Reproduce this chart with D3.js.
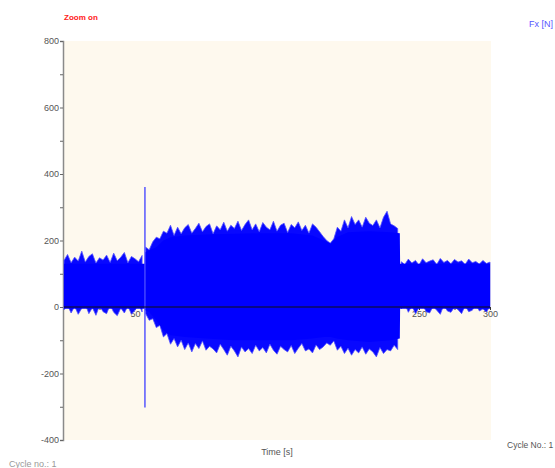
<!DOCTYPE html>
<html lang="en">

<head>
  <meta charset="UTF-8">
  <title>Fx [N]</title>
  <style>
    body { margin: 0; background: #fff; }
    text { font-family: "Liberation Sans", Arial, sans-serif; }
  </style>
</head>

<body>
  <script src="https://d3js.org/d3.v7.min.js"></script>
  <script>
    // 坐标轴刻度
    const xTicks = [50, 100, 150, 200, 250, 300];
    const yTicks = [-400, -200, 0, 200, 400, 600, 800];

    // 信号主体（实心部分）
    const coreTime = [0, 56.9, 57.1, 60, 65, 70, 75, 85, 100, 120, 140, 160, 175, 183, 188, 192, 200, 215, 230, 236.5, 236.7, 300];
    const coreHigh = [130, 130, 165, 170, 180, 200, 210, 215, 218, 220, 222, 222, 215, 200, 190, 210, 225, 228, 225, 222, 130, 130];
    const coreLow = [-5, -5, -10, -15, -40, -70, -85, -90, -95, -100, -100, -100, -95, -90, -90, -95, -100, -105, -100, -95, -5, -5];

    // 峰值，每 2.5 s 一个
    const peakHigh = [
      140, 158, 133, 150, 138, 168, 135, 152, 160, 132, 148, 141, 156, 134, 162, 139, 150, 164, 133, 152, 145, 136, 155,
      180, 172, 196, 210, 205, 228, 222, 246, 215, 240,
      220, 238, 248, 222, 236, 252, 226, 242, 250, 220,
      244, 232, 255, 228, 246, 236, 258, 230, 248, 262,
      232, 250, 226, 254, 240, 232, 258, 228, 246, 252,
      224, 248, 238, 256, 230, 246, 222, 250, 240, 226,
      212, 200, 192, 205, 240, 228, 262, 238, 272, 248,
      262, 240, 270, 252, 245, 262, 238, 270, 288, 250,
      244, 236,
      136, 128, 144, 132, 140, 126, 145, 133, 138, 142, 128, 146, 134, 140, 130, 143, 135, 139, 128, 144, 133, 137, 129, 140, 131, 135];
    const peakLow = [
      -8, 5, -18, 2, -22, -4, 8, -20, -2, -25, 4, -14, -20, 6, -16, -26, -3, -18, 3, -22, -10, 10, -15,
      -20, -40, -35, -62, -55, -90, -80, -112, -95, -120,
      -100, -128, -108, -135, -110, -125, -102, -130, -118, -126,
      -138, -112, -128, -145, -118, -132, -150, -120, -135, -125,
      -140, -115, -132, -122, -138, -112, -130, -142, -118, -128,
      -135, -116, -140, -124, -110, -132, -126, -138, -114, -128,
      -120, -108, -115, -102, -130, -118, -140, -124, -145, -128,
      -138, -120, -142, -126, -135, -150, -122, -140, -128, -132,
      -115, -128,
      -6, 10, -16, 4, -20, -2, 8, -14, -18, 2, -10, -22, 6, -12, -16, 0, -8, -20, 4, -14, -10, 8, -12, -6, -15, 2];
    const peakStep = 2.5;
    // 三个阶段在峰值数组中的起止下标
    const phases = [[0, 22], [23, 94], [95, 120]];

    // 57 s 处的尖峰
    const spikeTime = 57;
    const spikeHigh = 361;
    const spikeLow = -302;

    const width = 555, height = 468;
    const margin = { top: 41, left: 64, bottom: 28, right: 64 };

    const svg = d3.select('body').append('svg').attr('width', width).attr('height', height);

    // 比例尺
    const xscale = d3.scaleLinear().domain([0, 300]).range([margin.left, margin.left + 426]);
    const yscale = d3.scaleLinear().domain([-400, 800]).range([height - margin.bottom, margin.top]);

    // 背景
    svg.append('rect')
      .attr('x', margin.left).attr('y', margin.top)
      .attr('width', 427).attr('height', yscale(-400) - yscale(800))
      .attr('fill', '#fef9ee');

    // y 轴
    const yAxis = d3.axisLeft(yscale).tickValues(d3.range(-400, 801, 100)).tickSize(3)
      .tickFormat(d => yTicks.includes(d) ? d : '');
    const gy = svg.append('g').attr('transform', `translate(${margin.left - 1},0)`).call(yAxis);
    gy.select('.domain').attr('stroke', '#8a8a8a').attr('stroke-width', 1.5);
    gy.selectAll('.tick line').attr('stroke', '#666');
    gy.selectAll('.tick text').attr('fill', '#555').attr('font-size', 9).attr('x', -4)
      .style('font-family', '"Liberation Sans", Arial, sans-serif');

    // x 轴（位于 y=0）
    const xAxis = d3.axisBottom(xscale).tickValues(d3.range(25, 301, 25)).tickSize(3)
      .tickFormat(d => xTicks.includes(d) ? d : '');
    const gx = svg.append('g').attr('transform', `translate(0,${yscale(0)})`).call(xAxis);
    gx.select('.domain').remove();
    gx.selectAll('.tick line').attr('stroke', '#333');
    gx.selectAll('.tick text').attr('fill', '#555').attr('font-size', 9).attr('y', 4)
      .style('font-family', '"Liberation Sans", Arial, sans-serif');

    // 峰值包络，每个阶段一段
    const peakArea = d3.area()
      .x(i => xscale(i * peakStep))
      .y0(i => yscale(peakLow[i]))
      .y1(i => yscale(peakHigh[i]));
    svg.append('g')
      .selectAll('path').data(phases)
      .enter()
      .append('path')
      .attr('d', p => peakArea(d3.range(p[0], p[1] + 1)))
      .attr('fill', '#0808ff').attr('stroke', '#5252ff').attr('stroke-width', 0.8);

    // 主体
    const area = d3.area()
      .x((d, i) => xscale(coreTime[i]))
      .y0((d, i) => yscale(coreLow[i]))
      .y1(d => yscale(d));
    svg.append('path').datum(coreHigh).attr('d', area).attr('fill', '#0000ff');

    // 尖峰
    svg.append('line')
      .attr('x1', xscale(spikeTime)).attr('x2', xscale(spikeTime))
      .attr('y1', yscale(spikeHigh)).attr('y2', yscale(spikeLow))
      .attr('stroke', '#4a4aff').attr('stroke-width', 1.4);

    // 零线
    svg.append('line')
      .attr('x1', xscale(0)).attr('x2', xscale(300))
      .attr('y1', yscale(0)).attr('y2', yscale(0))
      .attr('stroke', '#111').attr('stroke-width', 1.2);

    // 文本
    svg.append('text').attr('x', 64).attr('y', 20).attr('fill', '#ff2020')
      .attr('font-size', 8).attr('font-weight', 'bold').text('Zoom on');
    svg.append('text').attr('x', 529).attr('y', 27).attr('fill', '#5555ff')
      .attr('font-size', 9).text('Fx [N]');
    svg.append('text').attr('x', 277).attr('y', 455).attr('fill', '#555')
      .attr('font-size', 9).attr('text-anchor', 'middle').text('Time [s]');
    svg.append('text').attr('x', 507).attr('y', 448).attr('fill', '#555')
      .attr('font-size', 8.5).text('Cycle No.: 1');
    svg.append('text').attr('x', 9).attr('y', 467).attr('fill', '#999')
      .attr('font-size', 9).text('Cycle no.: 1');
  </script>
</body>

</html>
